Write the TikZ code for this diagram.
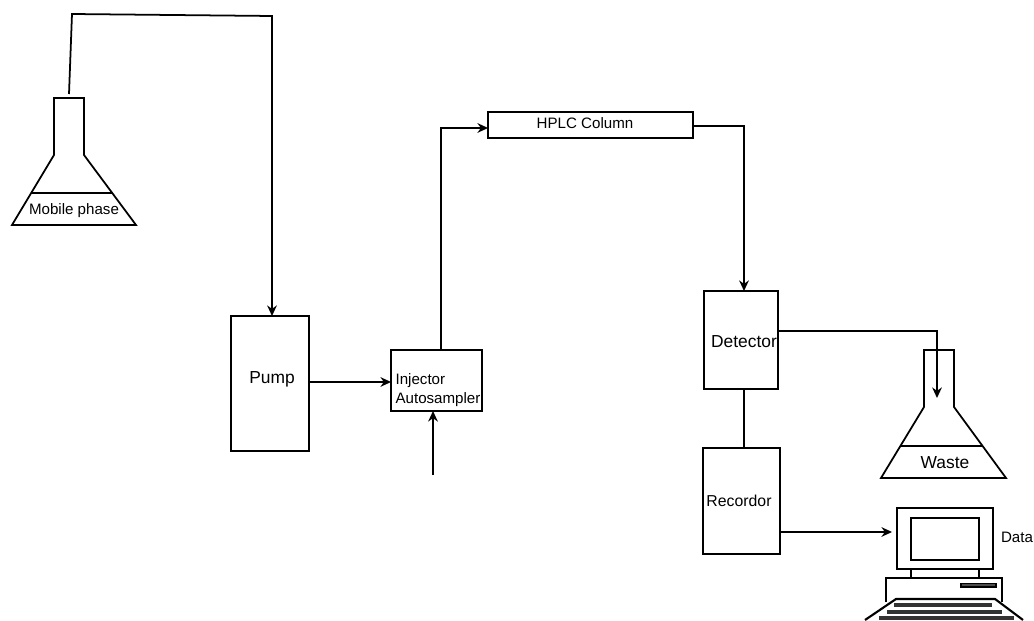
\documentclass[tikz,border=0pt]{standalone}
\usepackage{fontspec}
\setmainfont{Liberation Sans}
\usetikzlibrary{arrows.meta}
\begin{document}
\begin{tikzpicture}[x=0.02cm,y=-0.02cm,>={Stealth[length=6pt,width=5.5pt]},line width=1pt,
  boxnode/.style={draw,inner sep=0pt,outer sep=0pt},
  biglabel/.style={inner sep=0pt,font=\fontsize{9.9}{11}\selectfont},
  smalllabel/.style={inner sep=0pt,font=\fontsize{8.6}{10.8}\selectfont}]
\useasboundingbox (0,0) rectangle (1034,621);
% Mobile phase
\begin{scope}[shift={(54,98)}]
\draw (-42,127) -- (0,57) -- (0,0) -- (30,0) -- (30,57) -- (82,127) -- cycle;
\draw (-23,95) -- (59,95);
\node[smalllabel] (mobilelabel) at (20,113) {Mobile phase};
\end{scope}
% Waste
\begin{scope}[shift={(924,350)}]
\draw (-43,128) -- (0,57) -- (0,0) -- (30,0) -- (30,57) -- (82,128) -- cycle;
\draw (-23,96) -- (59,96);
\node[biglabel] (wastelabel) at (21,113) {Waste};
\end{scope}
% Boxes
\node[boxnode,minimum width=1.56cm,minimum height=2.7cm] (pump) at (270,383.5) {};
\node[biglabel] (pumplabel) at (272,379) {Pump};
\node[boxnode,minimum width=1.82cm,minimum height=1.22cm] (injector) at (436.5,380.5) {};
\node[smalllabel,align=left] (injectorlabel) at (438,390) {Injector\\Autosampler};
\node[boxnode,minimum width=4.1cm,minimum height=0.52cm] (column) at (590.5,125) {};
\node[smalllabel] (columnlabel) at (585,123) {HPLC Column};
\node[boxnode,minimum width=1.48cm,minimum height=1.96cm] (detector) at (741,340) {};
\node[biglabel] (detectorlabel) at (744,342) {Detector};
\node[boxnode,minimum width=1.54cm,minimum height=2.12cm] (recordor) at (741.5,501) {};
\node[biglabel,font=\fontsize{9}{11}\selectfont] (recordorlabel) at (739,501) {Recordor};
% Computer
\node[boxnode,minimum width=1.92cm,minimum height=1.22cm] (monitor) at (945,538.5) {};
\node[boxnode,minimum width=1.36cm,minimum height=0.84cm] (screen) at (945,539) {};
\node[smalllabel] (datalabel) at (1017,537) {Data};
\draw (911,569) -- (911,578) (979,569) -- (979,578);
\draw (886,602) -- (886,578) -- (1002,578) -- (1002,602);
\draw[fill=black!70] (961,583.5) rectangle (996,587);
\draw[line width=1.2pt] (865,620) -- (896,599) -- (995,599) -- (1023,620);
\foreach \xa/\xb/\ya in {894/992/603,887/1002/610,879/1014/616}
  \fill[black!80] (\xa,\ya) rectangle (\xb,\ya+3.5);
% Free ends and bends
\coordinate (mobiletop) at (69,94);
\coordinate (bendleft) at (72,14);
\coordinate (bendright) at (272,16);
\coordinate (injin) at (391,382);
\coordinate (sampleend) at (433,475);
\coordinate (injup) at (441,128);
\coordinate (colout) at (744,126);
\coordinate (detout) at (937,331);
\coordinate (wastein) at (937,398);
\coordinate (datain) at (892,532);
% Flow lines
\draw[->] (mobiletop) -- (bendleft) -- (bendright) -- (bendright |- pump.north);
\draw[->] (injin -| pump.east) -- (injin);
\draw[->] (sampleend) -- (sampleend |- injector.south);
\draw[->] (injup |- injector.north) -- (injup) -- (injup -| column.west);
\draw[->] (colout -| column.east) -- (colout) -- (colout |- detector.north);
\draw[->] (detout -| detector.east) -- (detout) -- (wastein);
\draw ([xshift=0.06cm]detector.south) -- ([xshift=0.05cm]recordor.north);
\draw[->] (datain -| recordor.east) -- (datain);
\end{tikzpicture}
\end{document}
